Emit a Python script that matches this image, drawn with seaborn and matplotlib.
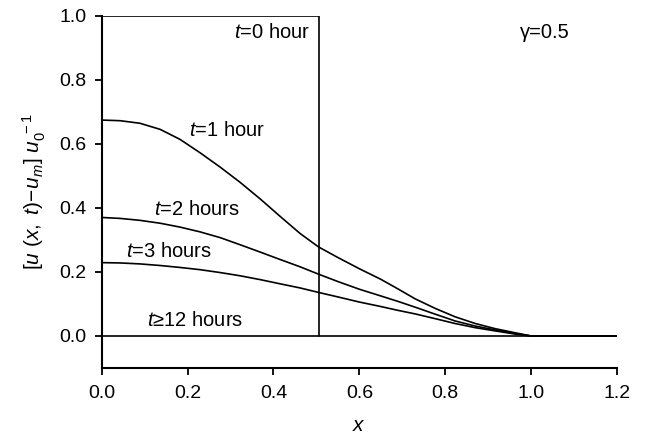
import numpy as np
import pandas as pd
import matplotlib
matplotlib.use("Agg")
import matplotlib.pyplot as plt
import seaborn as sns

# profile data
x_t0 = [0.0, 0.505, 0.505]
u_t0 = [1.0, 1.0, 0.0]

x_grid = [0.0, 0.043, 0.089, 0.136, 0.182, 0.229, 0.276, 0.322, 0.369, 0.415, 0.462, 0.505,
          0.55, 0.60, 0.65, 0.69, 0.730, 0.777, 0.823, 0.870, 0.916, 0.963, 1.0, 1.2]
u_t1 = [0.674, 0.672, 0.664, 0.645, 0.614, 0.572, 0.527, 0.480, 0.428, 0.374, 0.320, 0.278,
        0.245, 0.210, 0.177, 0.147, 0.116, 0.086, 0.060, 0.039, 0.023, 0.010, 0.0, 0.0]
u_t2 = [0.370, 0.367, 0.361, 0.352, 0.340, 0.325, 0.307, 0.285, 0.262, 0.239, 0.216, 0.193,
        0.170, 0.146, 0.125, 0.108, 0.090, 0.068, 0.047, 0.031, 0.019, 0.008, 0.0, 0.0]
u_t3 = [0.229, 0.228, 0.225, 0.220, 0.214, 0.207, 0.198, 0.188, 0.176, 0.163, 0.150, 0.136,
        0.122, 0.106, 0.092, 0.080, 0.069, 0.054, 0.039, 0.026, 0.016, 0.006, 0.0, 0.0]

x_t12 = [0.0, 1.2]
u_t12 = [0.0, 0.0]

sns.set_style("ticks")
plt.rcParams['font.family'] = ['Liberation Sans', 'DejaVu Sans']
plt.rcParams['mathtext.fontset'] = 'custom'
plt.rcParams['mathtext.rm'] = 'Liberation Sans'
plt.rcParams['mathtext.it'] = 'Liberation Sans:italic'
plt.rcParams['xtick.direction'] = 'out'
plt.rcParams['ytick.direction'] = 'out'
plt.rcParams['text.color'] = 'black'
plt.rcParams['axes.labelcolor'] = 'black'

fig = plt.figure(figsize=(6.48, 4.34), dpi=100)
ax = fig.add_axes([0.157, 0.152, 0.795, 0.812])

series = [(x_t0, u_t0), (x_grid, u_t1), (x_grid, u_t2), (x_grid, u_t3), (x_t12, u_t12)]
for xs, us in series:
    df = pd.DataFrame({'x': xs, 'u': us})
    sns.lineplot(data=df, x='x', y='u', sort=False, estimator=None,
                 color='black', linewidth=1.2, ax=ax)

ax.set_xlim(0, 1.2)
ax.set_ylim(-0.1, 1.0)
ax.set_xticks(np.arange(0, 1.21, 0.2))
ax.set_yticks(np.arange(0, 1.01, 0.2))
ax.set_xticklabels([f"{v:.1f}" for v in np.arange(0, 1.21, 0.2)])
ax.set_yticklabels([f"{v:.1f}" for v in np.arange(0, 1.01, 0.2)])
ax.tick_params(labelsize=14, length=5, width=1.3, colors='black')
ax.tick_params(axis='x', pad=7)
ax.tick_params(axis='y', pad=6)
for side in ['top', 'right']:
    ax.spines[side].set_visible(False)
for side in ['left', 'bottom']:
    ax.spines[side].set_linewidth(1.5)
    ax.spines[side].set_color('black')

ax.set_xlabel(r'$x$', fontsize=15, labelpad=10)
ax.set_ylabel(r'$[u\ (x,\ t)\!-\!u_m]\ u_0^{\ -1}$', fontsize=15, labelpad=8)

fs = 14.5
ax.text(0.397, 0.946, r'$t$=0 hour', ha='center', va='center', fontsize=fs)
ax.text(1.033, 0.946, 'γ=0.5', ha='center', va='center', fontsize=fs)
ax.text(0.291, 0.64, r'$t$=1 hour', ha='center', va='center', fontsize=fs)
ax.text(0.221, 0.395, r'$t$=2 hours', ha='center', va='center', fontsize=fs)
ax.text(0.157, 0.263, r'$t$=3 hours', ha='center', va='center', fontsize=fs)
ax.text(0.217, 0.049, r'$t$≥12 hours', ha='center', va='center', fontsize=fs)

fig.savefig('out.png', dpi=100)
